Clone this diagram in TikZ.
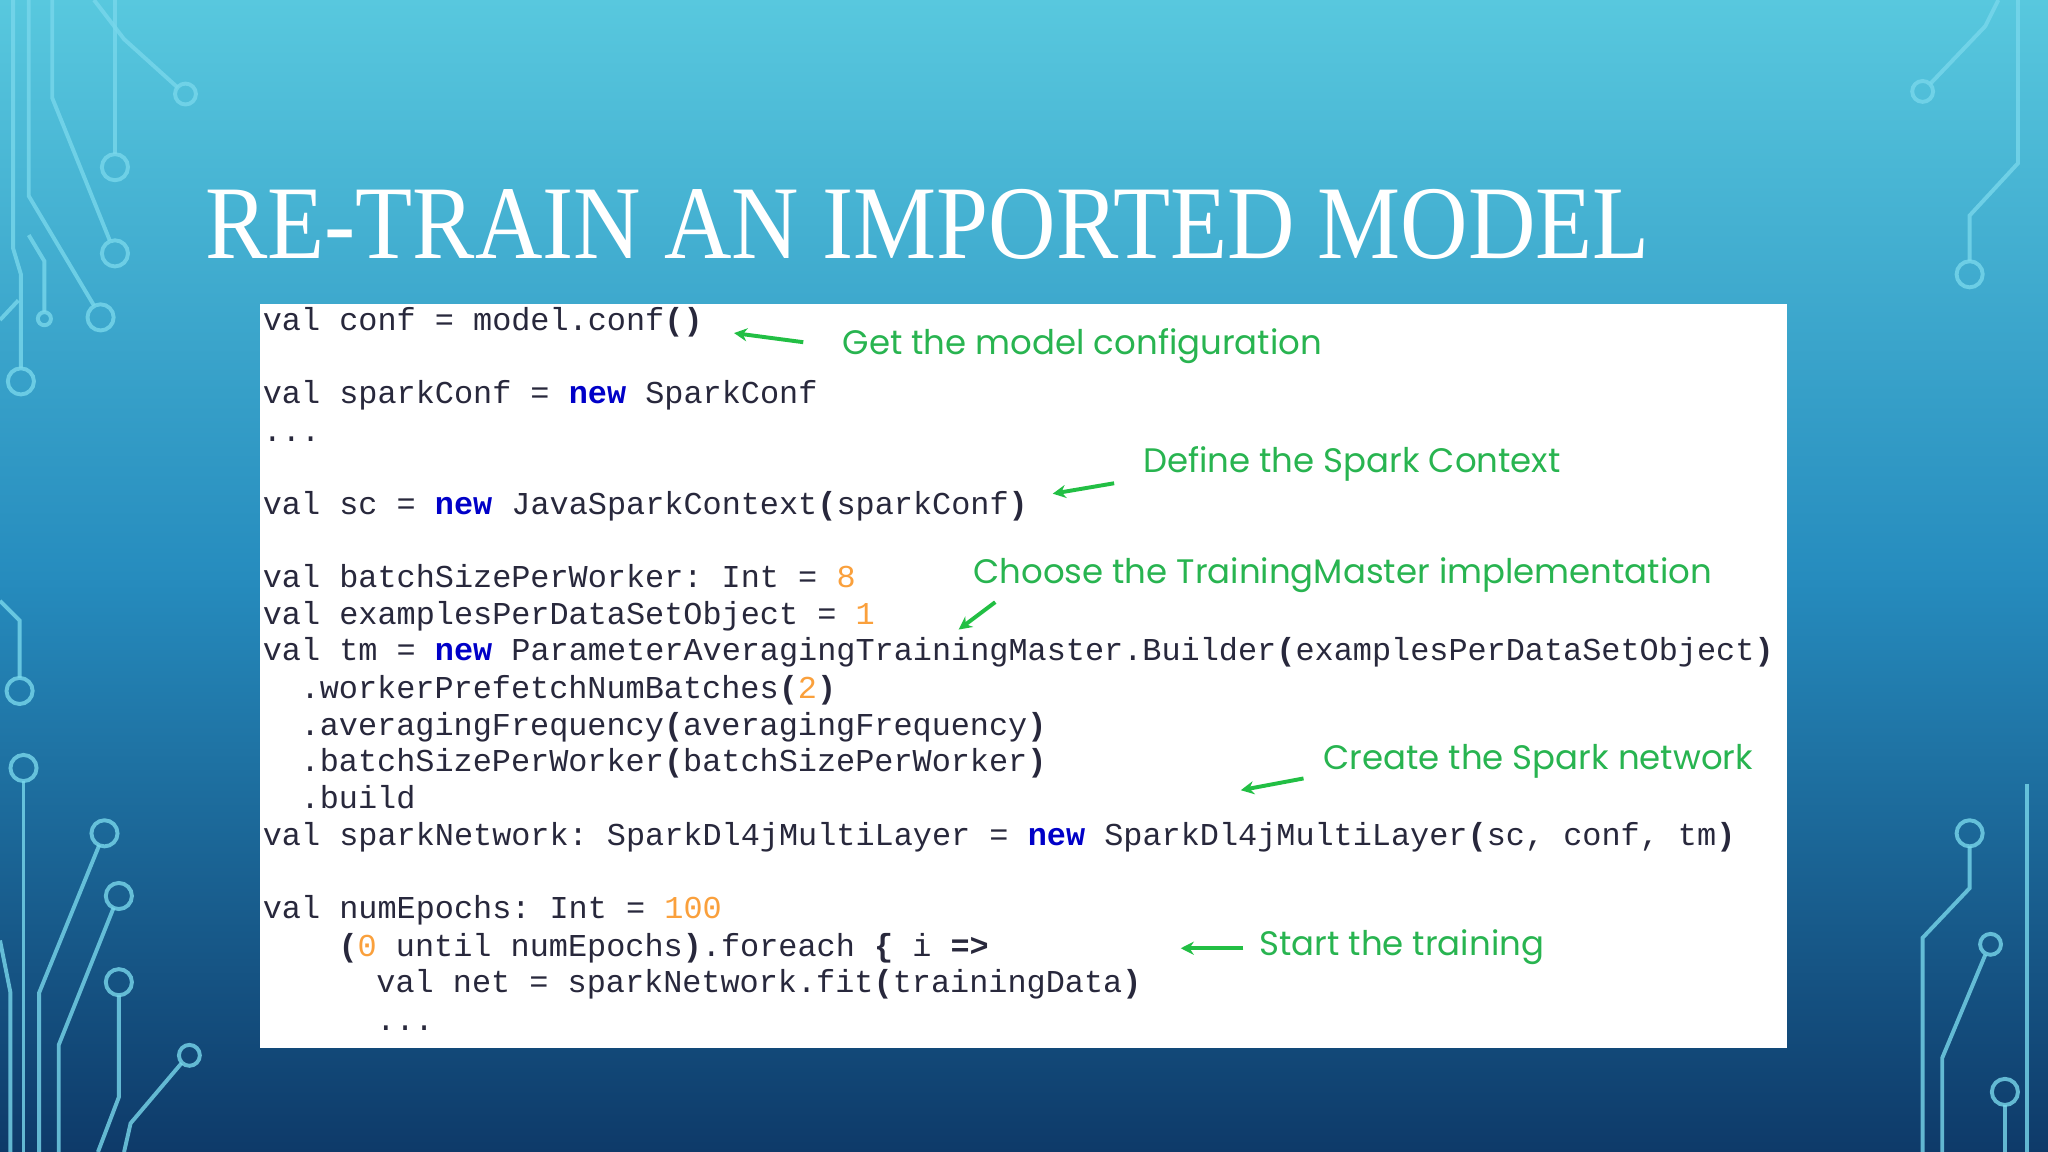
\documentclass[tikz,border=0pt]{standalone}
\usepackage{fontspec}
\setmainfont{Liberation Serif}
\setmonofont{Liberation Mono}
\newfontfamily\annfont{Poppins}
\usetikzlibrary{arrows.meta}
\definecolor{bgtop}{RGB}{88,200,222}
\definecolor{bgmid}{RGB}{38,140,190}
\definecolor{bgbot}{RGB}{14,58,105}
\definecolor{circ}{RGB}{120,215,235}
\definecolor{kw}{RGB}{0,0,200}
\definecolor{num}{RGB}{250,160,60}
\definecolor{codetxt}{RGB}{40,40,60}
\definecolor{ann}{RGB}{40,180,80}
\newcommand{\kwd}[1]{\textcolor{kw}{\textbf{#1}}}
\newcommand{\nmb}[1]{\textcolor{num}{#1}}
\newcommand{\bp}[1]{\textbf{#1}}
\tikzset{
 codeline/.style={anchor=base west,inner sep=0pt,font=\ttfamily\fontsize{24.4}{28}\selectfont,text=codetxt},
 annot/.style={anchor=west,inner sep=0pt,font=\annfont\fontsize{26}{30}\selectfont,text=ann},
 annarrow/.style={draw=ann!85!green,line width=3pt,-{Stealth[length=10pt,width=10pt]}},
 trace/.style={draw=circ,line width=3pt,opacity=0.8},
 pad/.style={draw=circ,line width=3pt,opacity=0.8}
}
\begin{document}
\begin{tikzpicture}[x=1pt,y=-1pt]
\useasboundingbox (0,0) rectangle (1568,882);
\shade[top color=bgtop,bottom color=bgmid] (0,0) rectangle (1568,441);
\shade[top color=bgmid,bottom color=bgbot] (0,441) rectangle (1568,882);
% circuit traces left
\draw[trace] (72,0)--(95,30)--(136,67); \draw[pad] (142,72) circle (8);
\draw[trace] (88,0)--(88,118); \draw[pad] (88,128) circle (10);
\draw[trace] (40,0)--(40,75)--(84,184); \draw[pad] (88,194) circle (10);
\draw[trace] (22,0)--(22,150)--(72,234); \draw[pad] (77,243) circle (10);
\draw[trace] (10,0)--(10,190)--(16,210)--(16,282); \draw[pad] (16,292) circle (10);
\draw[trace] (22,180)--(34,200)--(34,239); \draw[pad] (34,244) circle (5);
\draw[trace] (0,245)--(14,230);
\draw[trace] (0,460)--(15,475)--(15,519); \draw[pad] (15,529) circle (10);
\draw[trace] (18,598)--(18,882); \draw[pad] (18,588) circle (10);
\draw[trace] (76,647)--(30,760)--(30,882); \draw[pad] (80,638) circle (10);
\draw[trace] (87,695)--(45,800)--(45,882); \draw[pad] (91,686) circle (10);
\draw[trace] (91,762)--(91,840)--(75,882); \draw[pad] (91,752) circle (10);
\draw[trace] (139,814)--(100,860)--(95,882); \draw[pad] (145,808) circle (8);
\draw[trace] (0,720)--(8,760)--(8,882);
% right
\draw[trace] (1478,64)--(1520,20)--(1530,0); \draw[pad] (1472,70) circle (8);
\draw[trace] (1508,200)--(1508,165)--(1545,125)--(1545,0); \draw[pad] (1508,210) circle (10);
\draw[trace] (1508,648)--(1508,680)--(1472,718)--(1472,882); \draw[pad] (1508,638) circle (10);
\draw[trace] (1520,731)--(1487,810)--(1487,882); \draw[pad] (1524,723) circle (8);
\draw[trace] (1535,846)--(1535,882); \draw[pad] (1535,836) circle (10);
\draw[trace] (1552,600)--(1552,882);
% title
\node[anchor=base west,inner sep=0pt,text=white,font=\fontsize{80}{90}\selectfont] (title) at (157,198) {\scalebox{0.894}[1]{RE-TRAIN AN IMPORTED MODEL}};
% code box
\fill[white] (199,233) rectangle (1368,802);
\node[codeline] (l1) at (201,253) {val conf = model.conf\bp{()}};
\node[codeline] (l2) at (201,309) {val sparkConf = \kwd{new} SparkConf};
\node[codeline] (l3) at (201,338) {...};
\node[codeline] (l4) at (201,394) {val sc = \kwd{new} JavaSparkContext\bp{(}sparkConf\bp{)}};
\node[codeline] (l5) at (201,450) {val batchSizePerWorker: Int = \nmb{8}};
\node[codeline] (l6) at (201,478) {val examplesPerDataSetObject = \nmb{1}};
\node[codeline] (l7) at (201,506) {val tm = \kwd{new} ParameterAveragingTrainingMaster.Builder\bp{(}examplesPerDataSetObject\bp{)}};
\node[codeline] (l8) at (230,535) {.workerPrefetchNumBatches\bp{(}\nmb{2}\bp{)}};
\node[codeline] (l9) at (230,563) {.averagingFrequency\bp{(}averagingFrequency\bp{)}};
\node[codeline] (l10) at (230,591) {.batchSizePerWorker\bp{(}batchSizePerWorker\bp{)}};
\node[codeline] (l11) at (230,619) {.build};
\node[codeline] (l12) at (201,647) {val sparkNetwork: SparkDl4jMultiLayer = \kwd{new} SparkDl4jMultiLayer\bp{(}sc, conf, tm\bp{)}};
\node[codeline] (l13) at (201,703) {val numEpochs: Int = \nmb{100}};
\node[codeline] (l14) at (259,732) {\bp{(}\nmb{0} until numEpochs\bp{)}.foreach \bp{\{} i \bp{=>}};
\node[codeline] (l15) at (288,760) {val net = sparkNetwork.fit\bp{(}trainingData\bp{)}};
\node[codeline] (l16) at (288,789) {...};
% annotations
\node[annot] (a1) at (645,265) {Get the model configuration};
\node[annot] (a2) at (875,355) {Define the Spark Context};
\node[annot] (a3) at (745,440) {Choose the TrainingMaster implementation};
\node[annot] (a4) at (1013,583) {Create the Spark network};
\node[annot] (a5) at (964,725) {Start the training};
\coordinate (s1) at (615,262); \coordinate (e1) at (562,255);
\coordinate (s2) at (853,370); \coordinate (e2) at (806,378);
\coordinate (s3) at (762,461); \coordinate (e3) at (734,482);
\coordinate (s4) at (998,596); \coordinate (e4) at (950,605);
\coordinate (s5) at (952,726); \coordinate (e5) at (904,726);
\draw[annarrow] (s1)--(e1);
\draw[annarrow] (s2)--(e2);
\draw[annarrow] (s3)--(e3);
\draw[annarrow] (s4)--(e4);
\draw[annarrow] (s5)--(e5);
\end{tikzpicture}
\end{document}
